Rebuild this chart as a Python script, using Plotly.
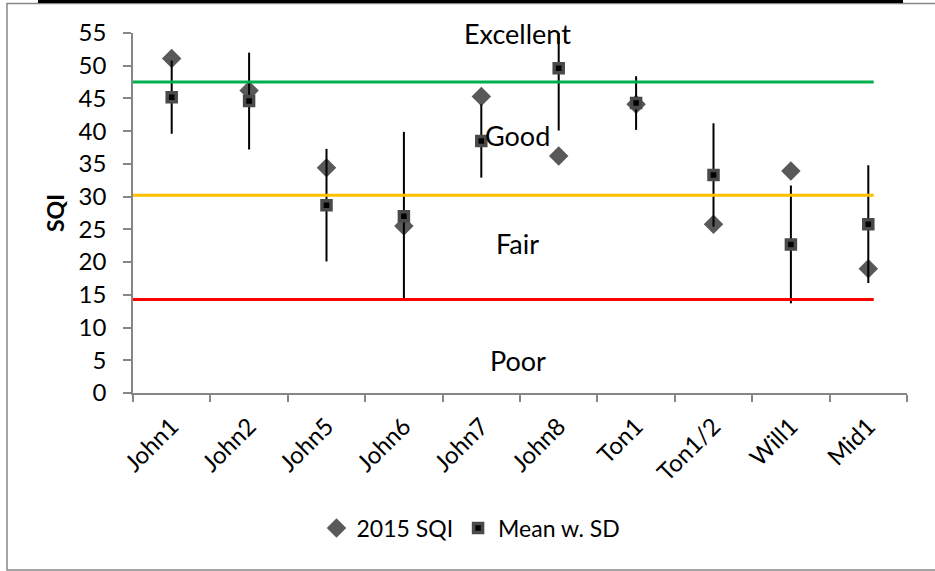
import plotly.graph_objects as go

# ---- data ----
categories = ["John1", "John2", "John5", "John6", "John7", "John8", "Ton1", "Ton1/2", "Will1", "Mid1"]
sqi_2015 = [51.1, 46.2, 34.4, 25.5, 45.3, 36.2, 44.1, 25.8, 33.9, 19.0]
mean_sqi = [45.2, 44.6, 28.7, 27.0, 38.5, 49.6, 44.3, 33.3, 22.7, 25.8]
sd_sqi = [5.6, 7.4, 8.6, 12.9, 5.6, 9.5, 4.1, 7.9, 9.0, 9.0]
threshold_values = [47.5, 30.2, 14.3]
threshold_colors = ["#00B050", "#FFC000", "#FF0000"]
class_labels = ["Excellent", "Good", "Fair", "Poor"]
class_label_y = [55.0, 39.3, 22.9, 5.0]

W, H = 935, 571
ML, MR, MT, MB = 133, 28, 33, 178
PW = W - ML - MR
PH = H - MT - MB

def px(xp):
    return (xp - ML) / PW

def py(yp):
    return (H - MB - yp) / PH

FONT = "Lato"
AXIS_GRAY = "#868686"

fig = go.Figure()

fig.add_trace(go.Scatter(
    x=categories, y=sqi_2015, mode="markers", name="2015 SQI",
    marker=dict(symbol="diamond", size=15, color="#595959", line=dict(width=0)),
))
fig.add_trace(go.Scatter(
    x=categories, y=mean_sqi, mode="markers", name="Mean w. SD",
    marker=dict(symbol="square", size=9, color="#000000", line=dict(width=3.5, color="#4a4a4a")),
    error_y=dict(type="data", array=sd_sqi, visible=True, color="#000000", thickness=2, width=0),
))

shapes = []
for v, c in zip(threshold_values, threshold_colors):
    shapes.append(dict(type="line", xref="x", yref="y", x0=-0.5, x1=9.07, y0=v, y1=v,
                       line=dict(color=c, width=3), layer="above"))
# outer frame
shapes.append(dict(type="rect", xref="paper", yref="paper", x0=px(7), x1=px(945), y0=py(570), y1=py(3.5),
                   line=dict(color=AXIS_GRAY, width=1.5), fillcolor="rgba(0,0,0,0)"))
shapes.append(dict(type="rect", xref="paper", yref="paper", x0=px(38), x1=px(903), y0=py(3), y1=py(-1),
                   line=dict(width=0), fillcolor="#000000"))

annotations = []
for lab, yv in zip(class_labels, class_label_y):
    annotations.append(dict(x=4.47, y=yv, xref="x", yref="y", text=lab, showarrow=False,
                            font=dict(family=FONT, size=27, color="#000000")))

fig.update_layout(
    width=W, height=H,
    margin=dict(l=ML, r=MR, t=MT, b=MB),
    paper_bgcolor="white", plot_bgcolor="white",
    font=dict(family=FONT, size=22, color="#000000"),
    showlegend=True,
    legend=dict(orientation="h", x=px(471), xanchor="center", y=py(528), yanchor="middle",
                font=dict(family=FONT, size=23), bgcolor="rgba(0,0,0,0)"),
    shapes=shapes,
    annotations=annotations,
    xaxis=dict(
        type="category", range=[-0.5, 9.5], tickson="boundaries",
        showline=True, linecolor=AXIS_GRAY, linewidth=1.5,
        ticks="outside", ticklen=7, tickcolor=AXIS_GRAY, tickwidth=1.5,
        tickangle=-45, showgrid=False, zeroline=False, ticklabelstandoff=8,
        tickfont=dict(family=FONT, size=24),
    ),
    yaxis=dict(
        range=[0, 55], dtick=5, tick0=0,
        showline=True, linecolor=AXIS_GRAY, linewidth=1.5,
        ticks="outside", ticklen=8, tickcolor=AXIS_GRAY, tickwidth=1.5,
        showgrid=False, zeroline=False, ticklabelstandoff=12,
        tickfont=dict(family=FONT, size=24),
        title=dict(text="<b>SQI</b>", font=dict(family=FONT, size=23), standoff=8),
    ),
)

fig.write_html("out.html", config={"displayModeBar": False},
               post_script="document.body.style.margin='0';")
